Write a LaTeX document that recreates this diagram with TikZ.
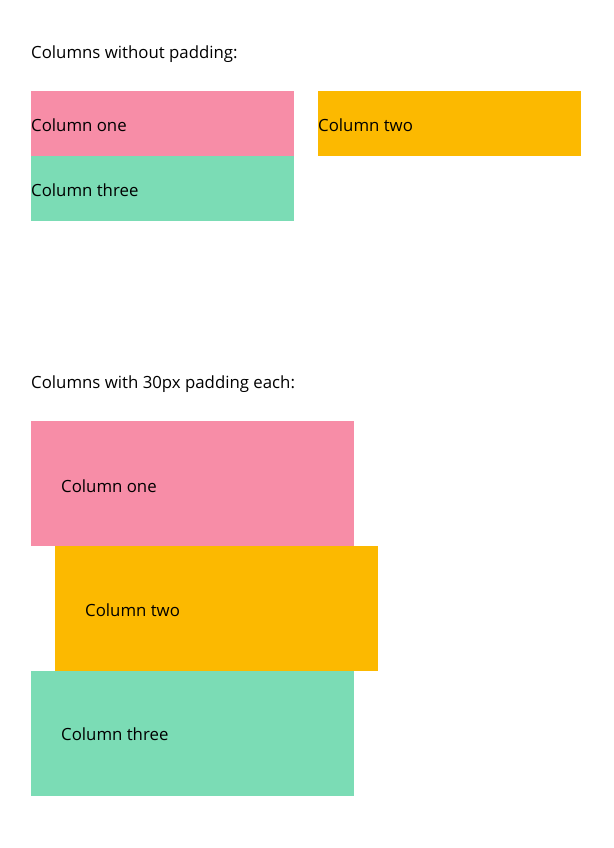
\documentclass[tikz,border=0pt]{standalone}
\usepackage{fontspec}
\setmainfont{Open Sans}
\definecolor{palepink}{HTML}{F78DA7}
\definecolor{amber}{HTML}{FCB900}
\definecolor{lightgreen}{HTML}{7BDCB5}
\begin{document}
\begin{tikzpicture}[x=1pt,y=-1pt,
  lbl/.style={anchor=west,inner sep=0pt,font=\fontsize{16.8}{20}\selectfont,text=black},
  col/.style={draw=none}]
\useasboundingbox (0,0) rectangle (613,848);
\node[lbl] (t1) at (31,54) {Columns without padding:};
\fill[palepink] (31,91) rectangle (294,156);
\fill[amber] (318,91) rectangle (581,156);
\fill[lightgreen] (31,156) rectangle (294,221);
\node[lbl] (a1) at (31,125) {Column one};
\node[lbl] (a2) at (318,125) {Column two};
\node[lbl] (a3) at (31,190) {Column three};
\node[lbl] (t2) at (31,384) {Columns with 30px padding each:};
\fill[palepink] (31,421) rectangle (354,546);
\fill[amber] (55,546) rectangle (378,671);
\fill[lightgreen] (31,671) rectangle (354,796);
\node[lbl] (b1) at (61,486) {Column one};
\node[lbl] (b2) at (85,610) {Column two};
\node[lbl] (b3) at (61,734) {Column three};
\end{tikzpicture}
\end{document}
